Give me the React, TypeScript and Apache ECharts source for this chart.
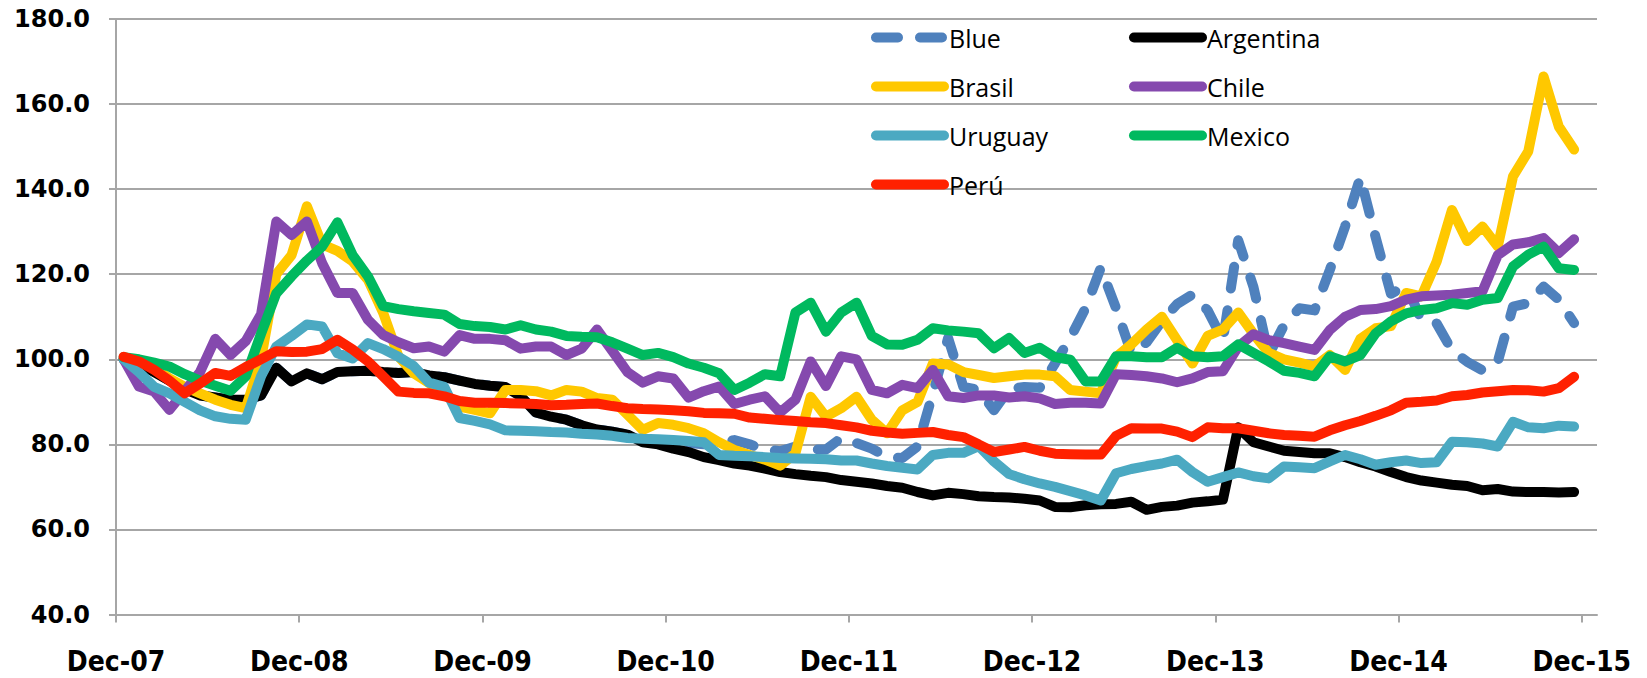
import React, { useEffect, useRef } from "react";
import * as echarts from "echarts";

const MONTHS = ["Jan", "Feb", "Mar", "Apr", "May", "Jun", "Jul", "Aug", "Sep", "Oct", "Nov", "Dec"];
const FIRST_MONTH = 11; // Dec
const FIRST_YEAR = 2007;
const monthLabel = (i: number) => {
  const m = (FIRST_MONTH + i) % 12;
  const y = FIRST_YEAR + Math.floor((FIRST_MONTH + i) / 12);
  return `${MONTHS[m]}-${String(y % 100).padStart(2, "0")}`;
};
// monthly categories Dec-07 .. Dec-15
const categories = Array.from({ length: 97 }, (_, i) => monthLabel(i));
// tick positions (month boundaries) Dec-07 .. Jan-16
const tickCategories = Array.from({ length: 98 }, (_, i) => monthLabel(i));

const seriesNames = ["Blue", "Argentina", "Brasil", "Chile", "Uruguay", "Mexico", "Perú"];

const blue = [
  100, 99, 97, 95, 93, 91.5, 91, 90.5, 90.5, 91.5, 98, 94.8, 96.7,
  95.3, 97, 97.2, 97.3, 97, 96.8, 97, 96.2, 95.8, 95, 94.2, 93.8,
  93.5, 91.3, 87.5, 86.5, 85.8, 84.5, 83.5, 83, 82.3, 80.8, 80.6, 80.4,
  80.3, 80, 80.3, 81, 80, 78.8, 78.4, 79.5, 78.8, 78.8, 81.5, 80.3,
  79, 77, 76.8, 79.5, 92, 105, 93.5, 92.8, 88, 93, 93.5, 93.3,
  99, 105, 112, 121.5, 112, 101.5, 104, 109, 113, 115.2, 111.5, 104.5,
  128, 117, 101, 108, 112, 111.5, 121, 131.2, 142.8, 128.7, 115.4, 117.4,
  109.2, 108.4, 102.1, 99.4, 97.4, 99.4, 112.4, 113.2, 117.1, 114, 108.5,
];
const argentina = [
  100, 99, 97, 95, 93, 91.5, 91, 90.5, 90.5, 91.5, 98, 94.8, 96.7,
  95.3, 97, 97.2, 97.3, 97, 96.8, 97, 96.2, 95.8, 95, 94.2, 93.8,
  93.5, 91.3, 87.5, 86.5, 85.8, 84.5, 83.5, 83, 82.3, 80.5, 80, 79,
  78.2, 77, 76.3, 75.5, 75, 74.3, 73.5, 73, 72.6, 72.3, 71.6, 71.2,
  70.8, 70.2, 69.8, 68.8, 68, 68.6, 68.3, 67.8, 67.6, 67.5, 67.2, 66.8,
  65.3, 65.2, 65.7, 65.9, 66, 66.5, 64.6, 65.3, 65.6, 66.3, 66.6, 67,
  84, 80.5, 79.5, 78.5, 78.2, 77.9, 77.9, 77, 75.8, 74.8, 73.5, 72.3,
  71.5, 71, 70.5, 70.2, 69.2, 69.5, 68.9, 68.8, 68.8, 68.7, 68.8,
];
const brasil = [
  100, 99.5, 98, 95.5, 93.5, 92, 90.5, 89.3, 88.5, 100, 120, 124.5, 136,
  127, 125.5, 123, 118.7, 110.9, 100.7, 96.7, 94.4, 92, 88.9, 88.1,
  87.3, 92.8, 92.8, 92.5, 91.5, 92.8, 92.4, 90.9, 90.5, 87, 83.4, 85, 84.6,
  83.8, 82.6, 80.5, 78.7, 77.5, 76.4, 75, 77.9, 91.2, 86.5, 88.5, 91.2, 85.8,
  82.6, 88, 90, 99, 98.8, 97, 96.3, 95.6, 96, 96.4, 96.4, 96, 92.8,
  92.4, 92, 100.5, 103.5, 107, 110, 104.5, 99, 105.5, 107, 111, 106, 101.5,
  100, 99.2, 98.3, 101, 97.5, 104.8, 107.3, 107.8, 115.6, 114.8,
  123, 135.1, 127.8, 131.2, 126.5, 143, 148.9, 166.5, 154.7, 149.3,
];
const chile = [
  100, 93.6, 92.4, 88.1, 92.5, 97, 104.8, 101, 104.3, 110.6, 132.4, 129.2, 132.4,
  122.6, 115.6, 115.6, 109.3, 105.7, 104, 102.6, 103, 101.8, 105.7, 104.8, 104.8,
  104.5, 102.5, 103, 103, 101, 102.5, 107, 102, 97, 94.5, 96, 95.5,
  91, 92.5, 93.6, 89.5, 90.5, 91.3, 87.5, 90.5, 99.5, 93.7, 100.7, 100, 92.8,
  92, 94, 93.2, 97.5, 91.3, 90.9, 91.5, 91.5, 91, 91.3, 90.8, 89.5, 89.8,
  89.8, 89.6, 96.5, 96.3, 96, 95.5, 94.6, 95.5, 97, 97.2, 103, 105.9, 104.5,
  103.8, 103, 102.2, 106.9, 110, 111.6, 111.8, 112.5, 114, 114.8,
  115, 115.2, 115.6, 116, 124.5, 127, 127.5, 128.5, 125, 128.2,
];
const uruguay = [
  100, 97, 93.5, 92, 90, 88, 86.6, 86, 85.8, 96, 103, 105.5, 108.2,
  107.7, 101.4, 100.2, 103.8, 102.4, 100.6, 98.4, 94.5, 93.5, 86.2, 85.5, 84.7,
  83.3, 83.2, 83.1, 82.9, 82.8, 82.5, 82.3, 82, 81.5, 81.3, 81.2, 81,
  80.8, 80.5, 77.5, 77.3, 77.2, 77, 76.8, 76.7, 76.6, 76.5, 76.2,
  76.2, 75.5, 74.9, 74.5, 74.1, 77.5, 78, 78, 79.6, 76, 73, 71.8, 70.8, 70,
  69, 68, 66.8, 73.2, 74.2, 74.9, 75.5, 76.4, 73.5, 71.2, 72.3, 73.4, 72.5, 72,
  74.8, 74.6, 74.4, 76, 77.5, 76.5, 75.2, 75.8, 76.2, 75.6,
  75.8, 80.6, 80.5, 80.2, 79.5, 85.3, 84, 83.8, 84.4, 84.2,
];
const mexico = [
  100.5, 100, 99.2, 98.3, 96.5, 95, 93.8, 92.6, 96, 106, 115.5, 119.5, 123.2,
  126.5, 132.2, 124.5, 119.5, 112.5, 111.8, 111.3, 110.9, 110.5, 108.3, 107.8, 107.6,
  107, 108, 107, 106.5, 105.5, 105.3, 105.2, 104, 102.5, 101, 101.5, 100.5,
  99, 98, 96.7, 92.8, 94.5, 96.5, 96, 111, 113.3, 106.5, 111,
  113.3, 105.5, 103.5, 103.4, 104.6, 107.3, 106.8, 106.5, 106.1,
  102.6, 105, 101.5, 102.7, 100.5, 99.9, 94.8, 94.8, 100.7, 100.7, 100.5, 100.5,
  102.7, 100.7, 100.5, 100.7, 103.5, 101.5, 99.5,
  97.3, 96.8, 96, 100.7, 99.5, 101, 106.1, 108.9, 110.8, 111.6,
  112, 113.2, 112.8, 114, 114.4, 121.8, 124.6, 126.5, 121.4, 121,
];
const peru = [
  100.6, 99.5, 97.5, 95, 92, 94.3, 96.8, 96.1, 98.2, 100, 101.9, 101.7, 101.8,
  102.4, 104.6, 102.3, 99.5, 96, 92.4, 92.1, 92, 91.3, 90.2, 89.8, 89.8,
  89.7, 89.6, 89.5, 89.2, 89.3, 89.5, 89.6, 89, 88.5, 88.3, 88.2, 88,
  87.8, 87.4, 87.3, 87.2, 86.3, 86, 85.7, 85.5, 85.2, 85, 84.5, 84,
  83.2, 82.8, 82.5, 82.7, 82.9, 82.2, 81.7, 80, 78.2, 78.8, 79.4, 78.5,
  77.8, 77.7, 77.6, 77.6, 82, 83.8, 83.7, 83.7, 83, 81.7, 84, 83.8,
  83.8, 83.2, 82.6, 82.2, 82, 81.8, 83.3, 84.5, 85.5, 86.7, 88, 89.8,
  90, 90.3, 91.3, 91.6, 92.2, 92.5, 92.8, 92.7, 92.4, 93.2, 95.9,
];

const seriesValues = [blue, argentina, brasil, chile, uruguay, mexico, peru];
const seriesColors = ["#4F81BD", "#000000", "#FFC800", "#8549AE", "#4BA9C2", "#00B95F", "#FF2100"];
const legendColumn1 = ["Blue", "Brasil", "Uruguay", "Perú"];
const legendColumn2 = ["Argentina", "Chile", "Mexico"];

const GRID_COLOR = "#A6A6A6";
const isYearTick = (index: number) => index % 12 === 0;

export default function App() {
  const ref = useRef<HTMLDivElement>(null);
  useEffect(() => {
    document.body.style.margin = "0";
    if (!ref.current) return;
    const chart = echarts.init(ref.current, undefined, { renderer: "svg" });
    const legendCommon = {
      orient: "vertical" as const,
      top: 20,
      itemWidth: 68,
      itemHeight: 14,
      itemGap: 24,
      textStyle: { fontFamily: "'Open Sans', sans-serif", fontSize: 25, color: "#000", lineHeight: 25 },
      lineStyle: { width: 10 },
      itemStyle: { opacity: 0 },
      selectedMode: false,
    };
    chart.setOption({
      animation: false,
      backgroundColor: "#fff",
      grid: { left: 116, right: 50, top: 19, bottom: 63.5, containLabel: false },
      legend: [
        { ...legendCommon, left: 866, data: legendColumn1 },
        { ...legendCommon, left: 1124, data: legendColumn2 },
      ],
      xAxis: [
        {
          type: "category",
          data: categories,
          boundaryGap: true,
          position: "bottom",
          axisLine: { show: true, lineStyle: { color: GRID_COLOR, width: 2 } },
          axisTick: { show: false },
          axisLabel: { show: false },
          splitLine: { show: false },
        },
        {
          type: "category",
          data: tickCategories,
          boundaryGap: false,
          position: "bottom",
          axisLine: { show: false },
          axisTick: { show: true, interval: isYearTick, length: 8, lineStyle: { color: GRID_COLOR, width: 2 } },
          axisLabel: {
            interval: isYearTick,
            margin: 33,
            color: "#000",
            fontFamily: "'DejaVu Sans Condensed', sans-serif",
            fontWeight: "bold",
            fontSize: 28,
          },
          splitLine: { show: false },
        },
      ],
      yAxis: {
        type: "value",
        min: 40,
        max: 180,
        interval: 20,
        axisLine: { show: true, lineStyle: { color: GRID_COLOR, width: 2 } },
        axisTick: { show: true, length: 7, lineStyle: { color: GRID_COLOR, width: 2 } },
        splitLine: { show: true, lineStyle: { color: GRID_COLOR, width: 2 } },
        axisLabel: {
          margin: 26,
          color: "#000",
          fontFamily: "'DejaVu Sans', sans-serif",
          fontWeight: "bold",
          fontSize: 24,
          formatter: (v: number) => v.toFixed(1),
        },
      },
      series: seriesNames.map((name, i) => ({
        name,
        type: "line",
        xAxisIndex: 0,
        data: seriesValues[i],
        symbol: "none",
        smooth: false,
        color: seriesColors[i],
        lineStyle: {
          color: seriesColors[i],
          width: 10,
          cap: "round",
          join: "round",
          type: name === "Blue" ? [22, 22] : "solid",
        },
        emphasis: { disabled: true },
      })),
    });
    return () => chart.dispose();
  }, []);
  return <div ref={ref} style={{ width: 1647, height: 678 }} />;
}
